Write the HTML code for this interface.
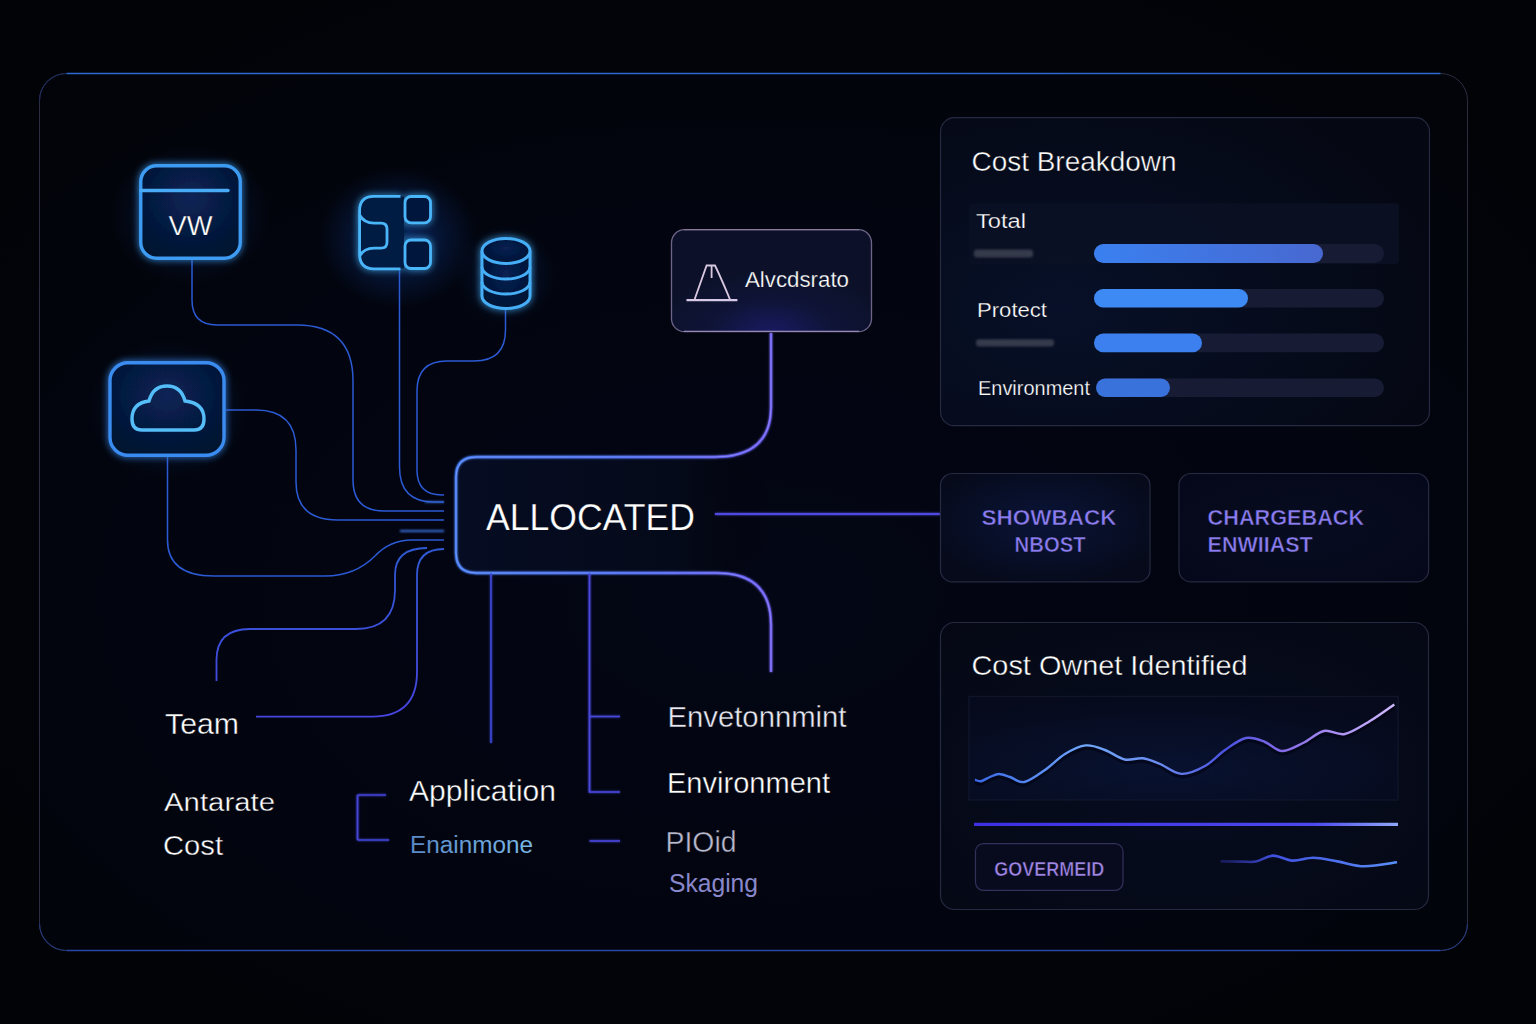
<!DOCTYPE html>
<html><head><meta charset="utf-8">
<style>
html,body{margin:0;padding:0;width:1536px;height:1024px;overflow:hidden;background:#020308;}
svg{position:absolute;left:0;top:0;display:block}
text{font-family:"Liberation Sans",sans-serif;}
.th{stroke:#03060f;stroke-width:0.4px;}
.th2{stroke:#060a18;stroke-width:0.25px;}
</style></head>
<body>
<svg width="1536" height="1024" viewBox="0 0 1536 1024">
<defs>
  <radialGradient id="bgGlow" cx="0.5" cy="0.5" r="0.6">
    <stop offset="0" stop-color="#05070f"/>
    <stop offset="1" stop-color="#020307"/>
  </radialGradient>
  <radialGradient id="frameFill" cx="0.5" cy="0.6" r="0.7">
    <stop offset="0" stop-color="#030614"/>
    <stop offset="0.6" stop-color="#02050f"/>
    <stop offset="1" stop-color="#02040a"/>
  </radialGradient>
  <radialGradient id="iconGlow" cx="0.5" cy="0.5" r="0.5">
    <stop offset="0" stop-color="#0b3078" stop-opacity="0.8"/>
    <stop offset="1" stop-color="#0a2a6a" stop-opacity="0"/>
  </radialGradient>
  <radialGradient id="iconFill" cx="0.5" cy="0.35" r="0.75">
    <stop offset="0" stop-color="#082456"/>
    <stop offset="1" stop-color="#04112c"/>
  </radialGradient>
  <radialGradient id="dbFill" cx="0.5" cy="0.4" r="0.7">
    <stop offset="0" stop-color="#072152"/>
    <stop offset="1" stop-color="#041030"/>
  </radialGradient>
  <linearGradient id="allocFill" x1="456" y1="0" x2="771" y2="0" gradientUnits="userSpaceOnUse">
    <stop offset="0" stop-color="#060c22"/>
    <stop offset="0.7" stop-color="#050a1a"/>
    <stop offset="1" stop-color="#03050b" stop-opacity="0"/>
  </linearGradient>
  <linearGradient id="allocStroke" x1="456" y1="0" x2="771" y2="0" gradientUnits="userSpaceOnUse">
    <stop offset="0" stop-color="#3f78f0"/>
    <stop offset="0.55" stop-color="#4466f0"/>
    <stop offset="1" stop-color="#6a58f0"/>
  </linearGradient>
  <radialGradient id="alertFill" cx="0.5" cy="1.0" r="0.6" fx="0.5" fy="1.0">
    <stop offset="0" stop-color="#181a60"/>
    <stop offset="0.5" stop-color="#0f1438"/>
    <stop offset="1" stop-color="#0c1129"/>
  </radialGradient>
  <radialGradient id="panelFill" cx="0.25" cy="0.62" r="0.8">
    <stop offset="0" stop-color="#071028"/>
    <stop offset="1" stop-color="#050813"/>
  </radialGradient>
  <radialGradient id="panelFill2" cx="0.5" cy="0.55" r="0.8">
    <stop offset="0" stop-color="#060c20"/>
    <stop offset="1" stop-color="#050813"/>
  </radialGradient>
  <radialGradient id="showFill" cx="0.5" cy="0.45" r="0.6">
    <stop offset="0" stop-color="#0a1438"/>
    <stop offset="1" stop-color="#060a1a"/>
  </radialGradient>
  <radialGradient id="chargeFill" cx="0.5" cy="0.5" r="0.7">
    <stop offset="0" stop-color="#080c20"/>
    <stop offset="1" stop-color="#05081a"/>
  </radialGradient>
  <radialGradient id="chartFill" cx="0.45" cy="0.7" r="0.7">
    <stop offset="0" stop-color="#081230"/>
    <stop offset="1" stop-color="#060a1c"/>
  </radialGradient>
  <linearGradient id="waveStroke" x1="974" y1="0" x2="1394" y2="0" gradientUnits="userSpaceOnUse">
    <stop offset="0" stop-color="#3a68e8"/>
    <stop offset="0.27" stop-color="#70a8fa"/>
    <stop offset="0.45" stop-color="#6a8af0"/>
    <stop offset="0.6" stop-color="#4a52e0"/>
    <stop offset="0.75" stop-color="#8a6ee8"/>
    <stop offset="1" stop-color="#d0b8ff"/>
  </linearGradient>
  <linearGradient id="hlineStroke" x1="974" y1="0" x2="1398" y2="0" gradientUnits="userSpaceOnUse">
    <stop offset="0" stop-color="#3c30e0"/>
    <stop offset="0.8" stop-color="#4c48ee"/>
    <stop offset="1" stop-color="#90a8f8"/>
  </linearGradient>
  <linearGradient id="smallWave" x1="1219" y1="0" x2="1398" y2="0" gradientUnits="userSpaceOnUse">
    <stop offset="0" stop-color="#2a2a90" stop-opacity="0.5"/>
    <stop offset="0.3" stop-color="#4050e0"/>
    <stop offset="1" stop-color="#5a90f8"/>
  </linearGradient>
  <linearGradient id="barA" x1="0" y1="0" x2="1" y2="0">
    <stop offset="0" stop-color="#3a80f0"/>
    <stop offset="1" stop-color="#4868d0"/>
  </linearGradient>
  <linearGradient id="enainGrad" x1="410" y1="0" x2="532" y2="0" gradientUnits="userSpaceOnUse">
    <stop offset="0" stop-color="#5a88c8"/>
    <stop offset="1" stop-color="#78b8e8"/>
  </linearGradient>
  <linearGradient id="teamGrad" x1="0" y1="545" x2="0" y2="720" gradientUnits="userSpaceOnUse">
    <stop offset="0" stop-color="#2f5ad4"/>
    <stop offset="1" stop-color="#4844e2"/>
  </linearGradient>
  <linearGradient id="gridFill" x1="360" y1="0" x2="402" y2="0" gradientUnits="userSpaceOnUse">
    <stop offset="0" stop-color="#061a42"/>
    <stop offset="0.7" stop-color="#071c46"/>
    <stop offset="1" stop-color="#0a2a66" stop-opacity="0.2"/>
  </linearGradient>
  <filter id="glow" x="-30%" y="-30%" width="160%" height="160%">
    <feGaussianBlur stdDeviation="3.5" result="b"/>
    <feMerge><feMergeNode in="b"/><feMergeNode in="SourceGraphic"/></feMerge>
  </filter>
  <filter id="glowS" x="-10%" y="-10%" width="120%" height="120%">
    <feGaussianBlur stdDeviation="1.2" result="b"/>
    <feMerge><feMergeNode in="b"/><feMergeNode in="SourceGraphic"/></feMerge>
  </filter>
  <filter id="blur1"><feGaussianBlur stdDeviation="1"/></filter>
  <filter id="blur8" x="-50%" y="-50%" width="200%" height="200%"><feGaussianBlur stdDeviation="8"/></filter>
</defs>

<rect width="1536" height="1024" fill="url(#bgGlow)"/>

<!-- outer frame -->
<rect x="39.5" y="73.5" width="1428" height="877" rx="27" fill="url(#frameFill)" stroke="#2a2e40" stroke-width="1"/>
<path d="M66.5 73.5 H1440.5" stroke="#2c68d0" stroke-width="1.6"/>
<path d="M39.5 100.5 A27 27 0 0 1 66.5 73.5" fill="none" stroke="#1e2c5a" stroke-width="1.1"/>
<path d="M66.5 950.5 H1440.5" stroke="#2a46a6" stroke-width="1.3"/>
<path d="M39.5 923.5 A27 27 0 0 0 66.5 950.5" fill="none" stroke="#24387a" stroke-width="1.1"/>
<path d="M1440.5 950.5 A27 27 0 0 0 1467.5 923.5" fill="none" stroke="#24387a" stroke-width="1.1"/>

<!-- soft glows -->
<ellipse cx="398" cy="238" rx="80" ry="70" fill="url(#iconGlow)"/>
<ellipse cx="506" cy="275" rx="50" ry="50" fill="url(#iconGlow)" opacity="0.5"/>
<ellipse cx="190" cy="215" rx="80" ry="70" fill="url(#iconGlow)" opacity="0.6"/>
<ellipse cx="168" cy="410" rx="80" ry="70" fill="url(#iconGlow)" opacity="0.6"/>

<!-- connector lines (left) -->
<g fill="none" stroke="#2c5ad4" stroke-width="1.5">
  <path d="M192 260 V300 Q192 325 217 325 H297 Q353 325 353 381 V480 Q353 511 384 511 H444"/>
  <path d="M399.5 270 V467 Q399.5 502 434 502 H444"/>
  <path d="M505.5 309 V330 Q505.5 361 474 361 H447 Q417 361 417 391 V470 Q417 495 442 495 H444"/>
  <path d="M226 410 H256 Q296 410 296 450 V482 Q296 520 338 520 H444"/>
  <path d="M167.5 457 V540 Q167.5 576 214 576 H325 Q355 576 375 556 Q390 540 412 540 H444"/>
</g>
<g fill="none" stroke="url(#teamGrad)" stroke-width="1.8">
  <path d="M216.5 681 V660 Q216.5 629 250 629 H356 Q395 629 395 590 V575 Q395 548 427 548"/>
  <path d="M256 716.6 H372 Q417 716.6 417 672 V575 Q417 549 444 549"/>
</g>
<g fill="none" stroke="#3a70e0" stroke-width="2" filter="url(#blur1)">
  <path d="M425 502 H444" opacity="0.7"/>
  <path d="M400 531 H444" opacity="1"/>
</g>

<!-- ALLOCATED box -->
<path d="M476 457 H713 Q771 457 771 515 Q771 573 713 573 H476 Q456 573 456 553 V477 Q456 457 476 457 Z" fill="url(#allocFill)"/>
<g fill="none" filter="url(#glowS)">
  <path d="M771 333 V407 Q771 457 715 457 H476 Q456 457 456 477 V553 Q456 573 476 573 H717 Q771 573 771 625 V672" stroke="url(#allocStroke)" stroke-width="2.4"/>
  <path d="M771 333 V407 Q771 457 715 457 H476 Q456 457 456 477 V553 Q456 573 476 573 H717 Q771 573 771 625 V672" stroke="#c8d0ff" stroke-width="0.7" opacity="0.55"/>
  <path d="M715 514 H940" stroke="#5048e0" stroke-width="1.8"/>
  <path d="M491 573 V743" stroke="#3c4ad8" stroke-width="1.6"/>
  <path d="M589.5 573 V792 H620 M589.5 716.5 H620 M589.5 841 H620" stroke="#4a48e0" stroke-width="1.7"/>
  <path d="M357.5 795 V840 M357.5 795 H386 M357.5 840 H389" stroke="#4444d8" stroke-width="1.7"/>
</g>

<!-- icons -->
<g filter="url(#glow)">
  <rect x="140.75" y="165.75" width="99.5" height="92.5" rx="16" fill="url(#iconFill)" stroke="#3c9cf2" stroke-width="3.4"/>
  <path d="M141 190.5 H228" stroke="#4aaaf6" stroke-width="3.4" stroke-linecap="round"/>
  <rect x="110" y="362.75" width="114" height="92.5" rx="18" fill="url(#iconFill)" stroke="#3a8cf0" stroke-width="3.4"/>
  <path d="M140 430 H194 Q204 430 204 419 Q204 403 185 401 Q181 386 167 386 Q153 386 149 401 Q132 403 132 419 Q132 430 142 430 Z" fill="none" stroke="#55bdf8" stroke-width="3.4"/>
  <path d="M374 196.3 H404 V268.8 H374 Q359.6 268.8 359.6 254 V210.7 Q359.6 196.3 374 196.3 Z" fill="#061a42" stroke="none"/>
  <g fill="#05183e" stroke="#4ab6fa" stroke-width="2.8">
    <path d="M400.5 196.3 H374 Q359.6 196.3 359.6 210.7 V254 Q359.6 268.8 374 268.8 H400.5" fill="none"/>
    <path d="M359.6 215 Q364 223.1 374 223.1 H381 Q387 223.1 387 229 V242.3 Q387 248.2 381 248.2 H374 Q364 248.2 359.6 256" fill="none"/>
    <rect x="405" y="196.5" width="25.5" height="26.3" rx="6"/>
    <rect x="405" y="240" width="25.5" height="28.5" rx="6"/>
  </g>
  <g fill="url(#dbFill)" stroke="#45aef7" stroke-width="3">
    <path d="M482 251 V296 A24 12.5 0 0 0 530 296 V251"/>
    <ellipse cx="506" cy="251" rx="24" ry="12.5"/>
    <path d="M482 267 A24 12 0 0 0 530 267 M482 282 A24 12 0 0 0 530 282" fill="none"/>
  </g>
</g>
<text x="168.5" y="234.5" font-size="27" class="th2" fill="#ffffff" textLength="44" lengthAdjust="spacingAndGlyphs">VW</text>

<!-- Alert box -->
<rect x="671.5" y="229.7" width="200" height="102" rx="13" fill="url(#alertFill)" stroke="#6e6488" stroke-width="1.3"/>
<path d="M684 331.2 H859" stroke="#c0b0e8" stroke-width="1" opacity="0.7"/>
<path d="M684 229.8 H859" stroke="#a898b8" stroke-width="1" opacity="0.6"/>
<path d="M686.5 300.2 H737.4" stroke="#d8c8e8" stroke-width="2.2"/>
<path d="M694.4 300 L706.6 265.5 H715 Q722 280 730.2 300 M711.6 266 V278" fill="none" stroke="#d8c8e0" stroke-width="1.8"/>
<text x="745" y="286.6" font-size="21.5" class="th2" fill="#ffffff" textLength="104" lengthAdjust="spacingAndGlyphs">Alvcdsrato</text>

<!-- ALLOCATED text -->
<text x="486" y="529.6" font-size="36.5" class="th2" fill="#ffffff" textLength="209" lengthAdjust="spacingAndGlyphs">ALLOCATED</text>

<!-- left texts -->
<text x="165" y="733.5" font-size="29.5" class="th" fill="#ffffff" textLength="74" lengthAdjust="spacingAndGlyphs">Team</text>
<text x="164" y="811.3" font-size="26" class="th" fill="#ffffff" textLength="111" lengthAdjust="spacingAndGlyphs">Antarate</text>
<text x="163" y="854.5" font-size="27" class="th" fill="#ffffff" textLength="60" lengthAdjust="spacingAndGlyphs">Cost</text>
<text x="409" y="801.3" font-size="29" class="th" fill="#ffffff" textLength="147" lengthAdjust="spacingAndGlyphs">Application</text>
<text x="410" y="853" font-size="23" fill="url(#enainGrad)" textLength="123" lengthAdjust="spacingAndGlyphs">Enainmone</text>
<text x="667.5" y="726.5" font-size="29" class="th" fill="#e8e8f2" textLength="179" lengthAdjust="spacingAndGlyphs">Envetonnmint</text>
<text x="667" y="793.3" font-size="29" class="th" fill="#ffffff" textLength="163" lengthAdjust="spacingAndGlyphs">Environment</text>
<text x="665.5" y="851.5" font-size="29" class="th" fill="#b8b8cc" textLength="71" lengthAdjust="spacingAndGlyphs">PIOid</text>
<text x="669" y="892" font-size="25" fill="#8a88cc" textLength="89" lengthAdjust="spacingAndGlyphs">Skaging</text>

<!-- Cost Breakdown panel -->
<rect x="940.5" y="117.7" width="489" height="308" rx="14" fill="url(#panelFill)" stroke="#262a40" stroke-width="1.2"/>
<text x="971.5" y="170.7" font-size="27" class="th" fill="#ffffff" textLength="205" lengthAdjust="spacingAndGlyphs">Cost Breakdown</text>
<rect x="969" y="203.3" width="430" height="61" rx="4" fill="#0b1124" opacity="0.8"/>
<text x="976" y="227.6" font-size="20.5" class="th2" fill="#ffffff" textLength="50" lengthAdjust="spacingAndGlyphs">Total</text>
<rect x="974" y="249.6" width="59" height="7.8" rx="3" fill="#363a4c" filter="url(#blur1)"/>
<rect x="1094" y="244" width="290" height="19" rx="9.5" fill="#171c34"/>
<rect x="1094" y="244" width="229" height="19" rx="9.5" fill="url(#barA)"/>
<rect x="1094" y="289" width="290" height="18.5" rx="9.2" fill="#171c34"/>
<rect x="1094" y="289" width="154" height="18.5" rx="9.2" fill="#3d8af4"/>
<text x="977" y="317" font-size="20" class="th2" fill="#ffffff" textLength="70" lengthAdjust="spacingAndGlyphs">Protect</text>
<rect x="976" y="339.3" width="78" height="7.2" rx="3" fill="#363a4c" filter="url(#blur1)"/>
<rect x="1094" y="333.6" width="290" height="18.6" rx="9.3" fill="#171c34"/>
<rect x="1094" y="333.6" width="108" height="18.6" rx="9.3" fill="#3b80ee"/>
<text x="978" y="394.8" font-size="20.5" class="th2" fill="#ffffff" textLength="112" lengthAdjust="spacingAndGlyphs">Environment</text>
<rect x="1096" y="378.6" width="288" height="18.3" rx="9.1" fill="#171c34"/>
<rect x="1096" y="378.6" width="74" height="18.3" rx="9.1" fill="#3a72dc"/>

<!-- showback / chargeback -->
<rect x="940.5" y="473.5" width="209.5" height="108.4" rx="12" fill="url(#showFill)" stroke="#262a42" stroke-width="1.2"/>
<rect x="1179" y="473.5" width="249.6" height="108.4" rx="12" fill="url(#chargeFill)" stroke="#262a42" stroke-width="1.2"/>
<text x="981.5" y="525" font-size="22" font-weight="bold" fill="#8a7cf0" stroke="#080c20" stroke-width="0.5" textLength="135" lengthAdjust="spacingAndGlyphs">SHOWBACK</text>
<text x="1014.6" y="552" font-size="22" font-weight="bold" fill="#8a7cf0" stroke="#080c20" stroke-width="0.5" textLength="71" lengthAdjust="spacingAndGlyphs">NBOST</text>
<text x="1207.6" y="525" font-size="22" font-weight="bold" fill="#8a7cf0" stroke="#080c20" stroke-width="0.5" textLength="156.5" lengthAdjust="spacingAndGlyphs">CHARGEBACK</text>
<text x="1207.6" y="552" font-size="22" font-weight="bold" fill="#8a7cf0" stroke="#080c20" stroke-width="0.5" textLength="105" lengthAdjust="spacingAndGlyphs">ENWIIAST</text>

<!-- cost owner panel -->
<rect x="940.5" y="622.5" width="488" height="287" rx="14" fill="url(#panelFill2)" stroke="#262a40" stroke-width="1.2"/>
<text x="971.5" y="674.6" font-size="28" class="th" fill="#ffffff" textLength="276" lengthAdjust="spacingAndGlyphs">Cost Ownet Identified</text>
<rect x="969" y="696.3" width="429" height="103.7" fill="url(#chartFill)" stroke="#121830" stroke-width="1"/>
<path d="M975.0 779.8 C976.0 780.0 978.5 781.7 981.0 781.2 C983.5 780.7 987.0 778.2 990.0 777.0 C993.0 775.8 995.7 774.0 999.0 774.0 C1002.3 774.0 1005.8 775.7 1010.0 777.0 C1014.2 778.3 1018.6 783.2 1024.4 782.0 C1030.2 780.8 1038.2 774.7 1045.0 770.0 C1051.8 765.3 1058.2 758.1 1065.0 754.0 C1071.8 749.9 1079.1 746.1 1085.8 745.4 C1092.5 744.7 1098.5 747.6 1105.0 750.0 C1111.5 752.4 1118.4 758.1 1124.7 759.5 C1131.0 760.9 1136.8 757.5 1142.7 758.3 C1148.6 759.0 1153.5 761.4 1160.0 764.0 C1166.5 766.6 1174.1 773.6 1181.6 773.9 C1189.1 774.2 1197.8 770.0 1205.0 766.0 C1212.2 762.0 1218.2 754.7 1225.0 750.0 C1231.8 745.3 1239.3 739.3 1246.0 738.0 C1252.7 736.7 1259.0 739.8 1265.0 742.0 C1271.0 744.2 1275.7 750.8 1282.0 751.0 C1288.3 751.2 1296.0 746.3 1303.0 743.0 C1310.0 739.7 1316.9 732.5 1323.9 731.0 C1330.9 729.5 1337.1 735.7 1344.8 734.0 C1352.5 732.3 1361.8 725.9 1370.0 721.0 C1378.2 716.1 1390.2 707.2 1394.3 704.4" fill="none" stroke="#000010" stroke-width="5" opacity="0.5" transform="translate(0,2)"/>
<path d="M975.0 779.8 C976.0 780.0 978.5 781.7 981.0 781.2 C983.5 780.7 987.0 778.2 990.0 777.0 C993.0 775.8 995.7 774.0 999.0 774.0 C1002.3 774.0 1005.8 775.7 1010.0 777.0 C1014.2 778.3 1018.6 783.2 1024.4 782.0 C1030.2 780.8 1038.2 774.7 1045.0 770.0 C1051.8 765.3 1058.2 758.1 1065.0 754.0 C1071.8 749.9 1079.1 746.1 1085.8 745.4 C1092.5 744.7 1098.5 747.6 1105.0 750.0 C1111.5 752.4 1118.4 758.1 1124.7 759.5 C1131.0 760.9 1136.8 757.5 1142.7 758.3 C1148.6 759.0 1153.5 761.4 1160.0 764.0 C1166.5 766.6 1174.1 773.6 1181.6 773.9 C1189.1 774.2 1197.8 770.0 1205.0 766.0 C1212.2 762.0 1218.2 754.7 1225.0 750.0 C1231.8 745.3 1239.3 739.3 1246.0 738.0 C1252.7 736.7 1259.0 739.8 1265.0 742.0 C1271.0 744.2 1275.7 750.8 1282.0 751.0 C1288.3 751.2 1296.0 746.3 1303.0 743.0 C1310.0 739.7 1316.9 732.5 1323.9 731.0 C1330.9 729.5 1337.1 735.7 1344.8 734.0 C1352.5 732.3 1361.8 725.9 1370.0 721.0 C1378.2 716.1 1390.2 707.2 1394.3 704.4" fill="none" stroke="url(#waveStroke)" stroke-width="2.4"/>
<path d="M974 824.4 H1398" stroke="url(#hlineStroke)" stroke-width="3.2"/>
<rect x="975.5" y="843.6" width="147.5" height="46.7" rx="8" fill="#080a1e" stroke="#33305c" stroke-width="1.2"/>
<text x="994.3" y="875.7" font-size="20" font-weight="bold" fill="#a086e6" stroke="#080a1e" stroke-width="0.5" textLength="110" lengthAdjust="spacingAndGlyphs">GOVERMEID</text>
<path d="M1220.6 861.4 C1224.1 861.4 1235.6 861.6 1241.5 861.6 C1247.4 861.6 1250.8 862.5 1256.0 861.5 C1261.2 860.5 1266.9 855.8 1273.0 855.6 C1279.1 855.5 1285.7 860.2 1292.4 860.6 C1299.1 861.0 1305.9 857.7 1313.4 857.8 C1320.9 857.9 1328.9 860.0 1337.4 861.4 C1345.9 862.8 1354.4 866.1 1364.3 866.3 C1374.2 866.4 1391.5 863.0 1397.0 862.3" fill="none" stroke="url(#smallWave)" stroke-width="2.6"/>
</svg>
</body></html>
